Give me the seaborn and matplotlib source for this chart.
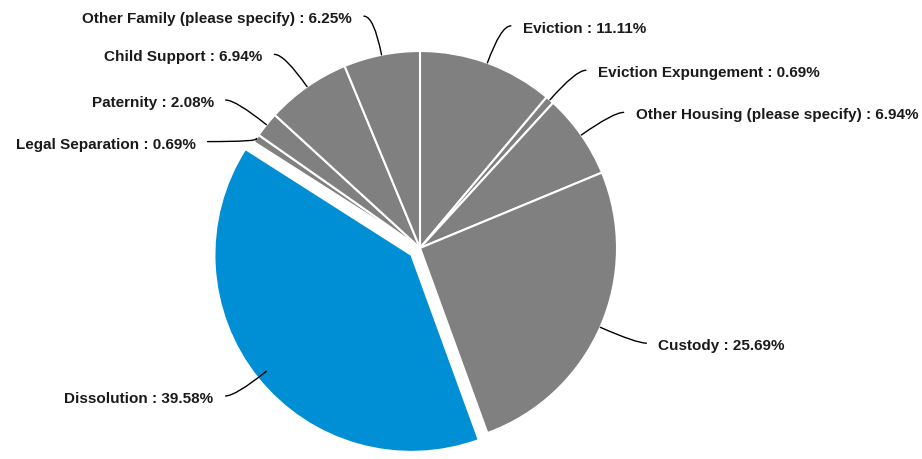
import numpy as np
import matplotlib
matplotlib.use("Agg")
import matplotlib.pyplot as plt
import seaborn as sns

# data, clockwise from 12 o'clock
categories = ["Eviction", "Eviction Expungement", "Other Housing (please specify)",
              "Custody", "Dissolution", "Legal Separation", "Paternity",
              "Child Support", "Other Family (please specify)"]
shares = [11.11, 0.69, 6.94, 25.69, 39.58, 0.69, 2.08, 6.94, 6.25]
highlight = "Dissolution"

# label layout tweaks (pixels) for crowded slices
label_nudge = {"Legal Separation": (-6, -25)}

sns.set_theme(style="white")
plt.rcParams["font.family"] = ["Liberation Sans", "DejaVu Sans"]

W, H = 922, 459
fig = plt.figure(figsize=(W / 100, H / 100), dpi=100)
ax = fig.add_axes([0, 0, 1, 1])

cx, cy, R = 420, H - 248, 197
grey = "#808080"
blue = "#008ED4"
colors = [blue if c == highlight else grey for c in categories]
explode = [11 if c == highlight else 0 for c in categories]

wedges, _ = ax.pie(shares, colors=colors, explode=explode, startangle=90,
                   counterclock=False, center=(cx, cy), radius=R, frame=True,
                   wedgeprops=dict(edgecolor="white", linewidth=1.5))

ax.set_xlim(0, W)
ax.set_ylim(0, H)
ax.set_aspect("equal")
ax.axis("off")

### Étiquettes avec lignes de rappel ###
for w, cat, val in zip(wedges, categories, shares):
    theta = 0.5 * (w.theta1 + w.theta2)
    d = np.array([np.cos(np.radians(theta)), np.sin(np.radians(theta))])
    edge = np.array([cx, cy]) + R * d
    ctrl = np.array([cx, cy]) + 1.2 * R * d
    side = 1 if d[0] > 0 else -1
    elbow = ctrl + np.array([10 * side, 0])
    dx, dy = label_nudge.get(cat, (0, 0))
    elbow = elbow + np.array([dx, dy])
    ax.annotate("", xy=edge, xytext=elbow,
                arrowprops=dict(arrowstyle="-", color="black", lw=1,
                                shrinkA=0, shrinkB=0,
                                connectionstyle=f"angle3,angleA=0,angleB={theta}"))
    ax.text(elbow[0] + 12 * side, elbow[1] - 3, f"{cat} : {val:.2f}%",
            ha="left" if side > 0 else "right", va="center",
            fontsize=11, fontweight="bold", color="#1a1a1a")

fig.savefig("out.png", dpi=100)
